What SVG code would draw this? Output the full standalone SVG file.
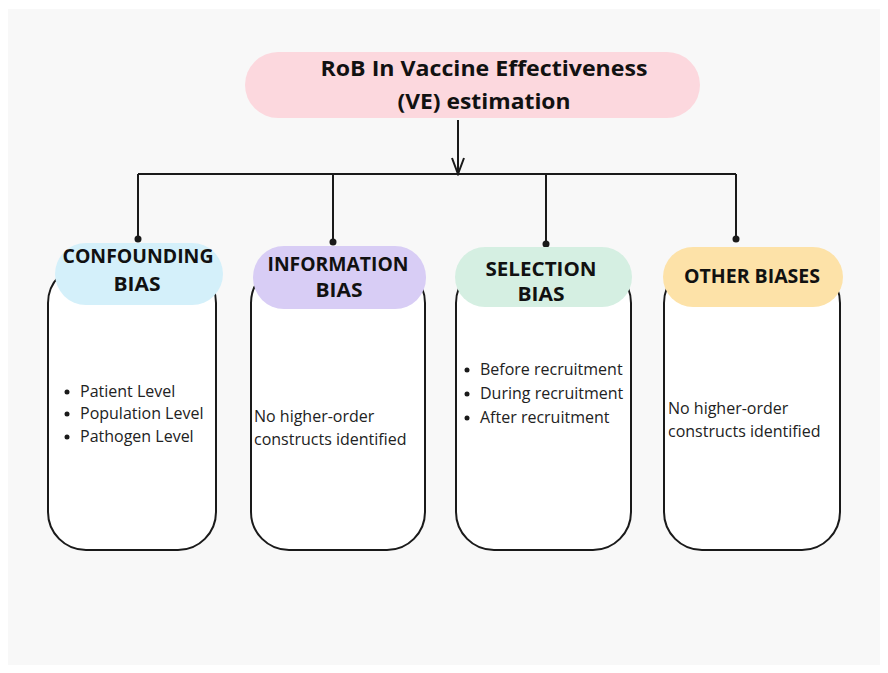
<svg xmlns="http://www.w3.org/2000/svg" width="888" height="673" viewBox="0 0 888 673">
  <style>
    .head { font-family: "Open Sans", "Liberation Sans", sans-serif; font-weight: 700; fill: #111; text-anchor: middle; }
    .body { font-family: "Open Sans", "Liberation Sans", sans-serif; font-size: 16px; fill: #222; }
    .card { fill: #ffffff; stroke: #1a1a1a; stroke-width: 2; }
    .wire { fill: none; stroke: #1a1a1a; stroke-width: 2; }
    .dot { fill: #1a1a1a; }
  </style>
  <defs>
    <marker id="vee" viewBox="0 0 20 14" refX="18" refY="7" markerWidth="20" markerHeight="14" markerUnits="userSpaceOnUse" orient="auto">
      <path d="M2,1 L18,7 L2,13" fill="none" stroke="#1a1a1a" stroke-width="2"/>
    </marker>
  </defs>

  <!-- page -->
  <rect x="0" y="0" width="888" height="673" fill="#ffffff"/>
  <rect x="8" y="9" width="872" height="656" fill="#f8f8f8"/>

  <!-- connectors -->
  <g id="connectors">
    <line class="wire" x1="458" y1="120" x2="458" y2="174" marker-end="url(#vee)"/>
    <line class="wire" x1="138" y1="174" x2="736" y2="174"/>
    <line class="wire" x1="138" y1="174" x2="138" y2="239"/>
    <line class="wire" x1="333" y1="174" x2="333" y2="242"/>
    <line class="wire" x1="546" y1="174" x2="546" y2="244"/>
    <line class="wire" x1="736" y1="174" x2="736" y2="239"/>
    <circle class="dot" cx="138" cy="239" r="3.5"/>
    <circle class="dot" cx="333" cy="242" r="3.5"/>
    <circle class="dot" cx="546" cy="244" r="3.5"/>
    <circle class="dot" cx="736" cy="239" r="3.5"/>
  </g>

  <!-- root -->
  <g id="root">
    <rect x="245" y="52" width="455" height="66" rx="33" fill="#fcd8de"/>
    <text class="head" x="484" y="76" font-size="22" textLength="327" lengthAdjust="spacingAndGlyphs">RoB In Vaccine Effectiveness</text>
    <text class="head" x="484" y="109" font-size="22" textLength="173" lengthAdjust="spacingAndGlyphs">(VE) estimation</text>
  </g>

  <!-- confounding bias -->
  <g id="confounding">
    <rect class="card" x="48" y="265" width="168" height="285" rx="38"/>
    <rect x="55" y="243" width="168" height="62" rx="31" fill="#d4f0fa"/>
    <text class="head" x="138" y="263" font-size="19" textLength="151" lengthAdjust="spacingAndGlyphs">CONFOUNDING</text>
    <text class="head" x="137" y="291" font-size="19" textLength="47" lengthAdjust="spacingAndGlyphs">BIAS</text>
    <circle class="dot" cx="67" cy="392" r="2.5"/>
    <circle class="dot" cx="67" cy="414" r="2.5"/>
    <circle class="dot" cx="67" cy="437" r="2.5"/>
    <text class="body" x="80" y="397">Patient Level</text>
    <text class="body" x="80" y="419">Population Level</text>
    <text class="body" x="80" y="442">Pathogen Level</text>
  </g>

  <!-- information bias -->
  <g id="information">
    <rect class="card" x="251" y="265" width="174" height="285" rx="38"/>
    <rect x="253" y="246" width="173" height="63" rx="31" fill="#d8cdf5"/>
    <text class="head" x="338" y="271" font-size="19" textLength="141" lengthAdjust="spacingAndGlyphs">INFORMATION</text>
    <text class="head" x="339" y="297" font-size="19" textLength="47" lengthAdjust="spacingAndGlyphs">BIAS</text>
    <text class="body" x="254" y="422">No higher-order</text>
    <text class="body" x="254" y="445">constructs identified</text>
  </g>

  <!-- selection bias -->
  <g id="selection">
    <rect class="card" x="456" y="265" width="175" height="285" rx="38"/>
    <rect x="455" y="247" width="177" height="60" rx="30" fill="#d5efe2"/>
    <text class="head" x="541" y="276" font-size="19" textLength="111" lengthAdjust="spacingAndGlyphs">SELECTION</text>
    <text class="head" x="541" y="301" font-size="19" textLength="47" lengthAdjust="spacingAndGlyphs">BIAS</text>
    <circle class="dot" cx="467" cy="370" r="2.5"/>
    <circle class="dot" cx="467" cy="394" r="2.5"/>
    <circle class="dot" cx="467" cy="418" r="2.5"/>
    <text class="body" x="480" y="375">Before recruitment</text>
    <text class="body" x="480" y="399">During recruitment</text>
    <text class="body" x="480" y="423">After recruitment</text>
  </g>

  <!-- other biases -->
  <g id="other">
    <rect class="card" x="664" y="265" width="176" height="285" rx="38"/>
    <rect x="663" y="247" width="180" height="60" rx="30" fill="#fde2a8"/>
    <text class="head" x="752" y="283" font-size="19" textLength="136" lengthAdjust="spacingAndGlyphs">OTHER BIASES</text>
    <text class="body" x="668" y="414">No higher-order</text>
    <text class="body" x="668" y="437">constructs identified</text>
  </g>
</svg>
